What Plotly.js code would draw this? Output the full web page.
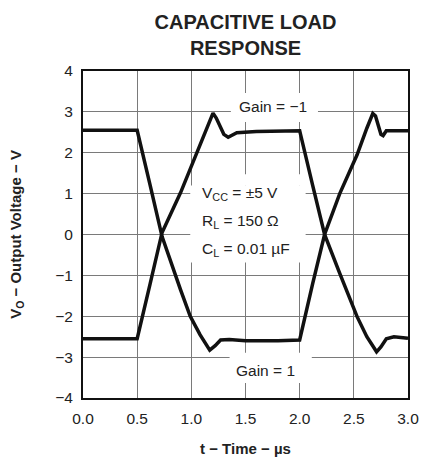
<!DOCTYPE html>
<html>
<head>
<meta charset="utf-8">
<script src="https://cdn.plot.ly/plotly-3.0.1.min.js"></script>
<style>html,body{margin:0;padding:0;background:#fff;}#chart{width:423px;height:460px;}</style>
</head>
<body>
<div id="chart"></div>
<script>
// Time axis (µs) and output voltages (V)
const curve1Time = [0, 0.5, 0.62, 0.73, 0.9, 0.99, 1.08, 1.17, 1.22, 1.27, 1.35, 1.5, 1.8, 2.0, 2.12, 2.23, 2.37, 2.53, 2.62, 2.675, 2.70, 2.75, 2.77, 2.80, 3.0];
const curve1Volt = [2.55, 2.55, 1.2, -0.05, -1.35, -2.0, -2.45, -2.83, -2.72, -2.58, -2.57, -2.6, -2.6, -2.58, -1.2, 0.0, 1.0, 1.95, 2.6, 2.96, 2.9, 2.45, 2.42, 2.54, 2.54];

const curve2Time = [0, 0.5, 0.62, 0.73, 0.9, 1.05, 1.2, 1.23, 1.3, 1.34, 1.42, 1.6, 1.8, 2.0, 2.12, 2.23, 2.37, 2.53, 2.62, 2.71, 2.75, 2.80, 2.87, 3.0];
const curve2Volt = [-2.55, -2.55, -1.2, 0.05, 1.02, 1.99, 2.97, 2.85, 2.45, 2.38, 2.49, 2.52, 2.52, 2.54, 1.2, 0.0, -0.95, -2.01, -2.5, -2.87, -2.75, -2.55, -2.5, -2.54];

const xTickVals = [0, 0.5, 1.0, 1.5, 2.0, 2.5, 3.0];
const xTickText = ['0.0', '0.5', '1.0', '1.5', '2.0', '2.5', '3.0'];
const yTickVals = [-4, -3, -2, -1, 0, 1, 2, 3, 4];

const FONT = 'Liberation Sans, Arial, Helvetica, sans-serif';
const lineStyle = {color: '#111', width: 3.5};

const traces = [
  {x: curve1Time, y: curve1Volt, mode: 'lines', line: lineStyle, hoverinfo: 'skip'},
  {x: curve2Time, y: curve2Volt, mode: 'lines', line: lineStyle, hoverinfo: 'skip'}
];

function box(x0, x1, y0, y1) {
  return {type: 'rect', xref: 'paper', yref: 'paper', x0: x0, x1: x1, y0: y0, y1: y1,
          fillcolor: '#fff', line: {width: 0}, layer: 'above'};
}
function note(text, x, y) {
  return {text: text, xref: 'paper', yref: 'paper', x: x, y: y, xanchor: 'left', yanchor: 'middle',
          showarrow: false, font: {family: FONT, size: 15.5, color: '#222'}};
}

const layout = {
  width: 423, height: 460,
  margin: {l: 83, r: 15, t: 71, b: 62},
  paper_bgcolor: '#fff', plot_bgcolor: '#fff',
  showlegend: false,
  font: {family: FONT, color: '#222'},
  title: {
    text: '<b>CAPACITIVE LOAD<br>RESPONSE</b>',
    font: {family: FONT, size: 20, color: '#222'},
    x: 0.5, xref: 'paper', xanchor: 'center',
    y: 1 - 29 / 460, yref: 'container', yanchor: 'middle'
  },
  xaxis: {
    range: [0, 3], tickvals: xTickVals, ticktext: xTickText,
    showgrid: true, gridcolor: '#7a7a7a', gridwidth: 1,
    zeroline: false, showline: true, mirror: true, linecolor: '#111', linewidth: 2,
    ticks: 'outside', ticklen: 5, tickcolor: 'rgba(0,0,0,0)',
    tickfont: {family: FONT, size: 15.5, color: '#222'},
    title: {text: '<b>t − Time − µs</b>', font: {family: FONT, size: 15, color: '#222'}, standoff: 18},
    fixedrange: true
  },
  yaxis: {
    range: [-4, 4], tickvals: yTickVals,
    showgrid: true, gridcolor: '#7a7a7a', gridwidth: 1,
    zeroline: false, showline: true, mirror: true, linecolor: '#111', linewidth: 2,
    ticks: 'outside', ticklen: 5, tickcolor: 'rgba(0,0,0,0)',
    tickfont: {family: FONT, size: 15.5, color: '#222'},
    title: {text: '<b>V<sub>O</sub> − Output Voltage − V</b>', font: {family: FONT, size: 15, color: '#222'}, standoff: 30},
    fixedrange: true
  },
  shapes: [
    box(0.455, 0.723, 0.844, 0.933),
    box(0.33, 0.685, 0.414, 0.65),
    box(0.347, 0.685, 0.649, 0.684),
    box(0.451, 0.704, 0.046, 0.138)
  ],
  annotations: [
    {text: 'Gain = −1', xref: 'paper', yref: 'paper', x: 0.585, y: 0.89, xanchor: 'center', yanchor: 'middle',
     showarrow: false, font: {family: FONT, size: 15.5, color: '#222'}},
    {text: 'Gain = 1', xref: 'paper', yref: 'paper', x: 0.562, y: 0.085, xanchor: 'center', yanchor: 'middle',
     showarrow: false, font: {family: FONT, size: 15.5, color: '#222'}},
    note('V<sub>CC</sub> = ±5 V', 0.36, 0.625),
    note('R<sub>L</sub> = 150 Ω', 0.36, 0.54),
    note('C<sub>L</sub> = 0.01 µF', 0.36, 0.455)
  ]
};

Plotly.newPlot('chart', traces, layout, {staticPlot: true, displayModeBar: false});
</script>
</body>
</html>
